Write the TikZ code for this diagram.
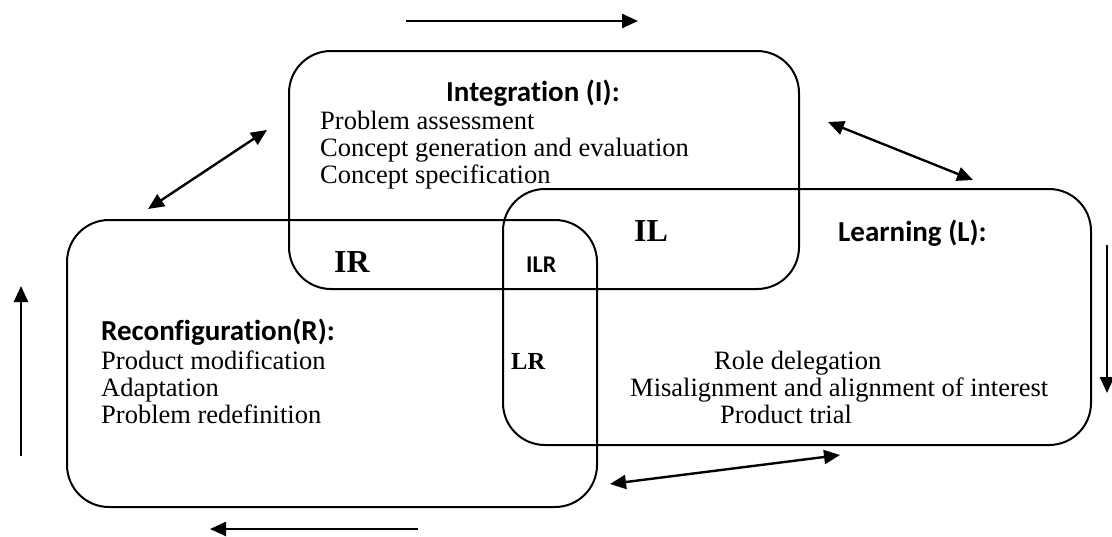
\documentclass[tikz,border=0pt]{standalone}
\usepackage{fontspec}
\setmainfont{Liberation Serif}
\newfontfamily\calib[Ligatures=NoCommon]{Carlito}
\usetikzlibrary{arrows.meta}
\begin{document}
\begin{tikzpicture}[x=1pt,y=-1pt,
  box/.style={draw, line width=2pt, rounded corners=42pt, inner sep=0pt, anchor=north west},
  arr/.style={line width=2.4pt, -{Triangle[length=16pt,width=14pt]}},
  darr/.style={line width=2.4pt, {Triangle[length=16pt,width=14pt]}-{Triangle[length=16pt,width=14pt]}},
  head/.style={font=\calib\bfseries\fontsize{29}{30}\selectfont, anchor=base west, inner sep=0pt},
  body/.style={font=\fontsize{26.5}{27}\selectfont, anchor=base west, inner sep=0pt},
  zbig/.style={font=\bfseries\fontsize{32}{34}\selectfont, anchor=base west, inner sep=0pt},
  zsmall/.style={font=\bfseries\fontsize{24.5}{26}\selectfont, anchor=base west, inner sep=0pt},
  zsans/.style={font=\calib\bfseries\fontsize{24}{26}\selectfont, anchor=base west, inner sep=0pt}
]
\useasboundingbox (0,0) rectangle (1112,536);

% boxes
\node[box, minimum width=510pt, minimum height=238pt] (I) at (288,50) {};
\node[box, minimum width=588pt, minimum height=256pt] (L) at (502,188) {};
\node[box, minimum width=530pt, minimum height=287pt] (R) at (66,219) {};

% Integration
\node[head] (ih) at (446,101) {Integration (I):};
\node[body] (i1) at (320,129) {Problem assessment};
\node[body] (i2) at (320,156) {Concept generation and evaluation};
\node[body] (i3) at (320,183) {Concept specification};

% Learning
\node[head] (lh) at (838,241) {Learning (L):};
\node[body] (l1) at (714,369) {Role delegation};
\node[body] (l2) at (630,396) {Misalignment and alignment of interest};
\node[body] (l3) at (720,423) {Product trial};

% Reconfiguration
\node[head] (rh) at (101,340) {Reconfiguration(R):};
\node[body] (r1) at (101,369) {Product modification};
\node[body] (r2) at (101,396) {Adaptation};
\node[body] (r3) at (101,423) {Problem redefinition};

% intersections
\node[zbig] (il) at (634,241) {IL};
\node[zbig] (ir) at (334,272) {IR};
\node[zsans] (ilr) at (526,272) {ILR};
\node[zsmall] (lr) at (511,369) {LR};

% arrow end points
\coordinate (ta) at (406,21);
\coordinate (tb) at (638,21);
\coordinate (ba) at (418,529);
\coordinate (bb) at (210,529);
\coordinate (la) at (21,456);
\coordinate (lb) at (21,286);
\coordinate (ra) at (1107,245);
\coordinate (rb) at (1107,393);
\coordinate (d1a) at (148,209);
\coordinate (d1b) at (267,130);
\coordinate (d2a) at (828,122);
\coordinate (d2b) at (973,180);
\coordinate (d3a) at (610,484);
\coordinate (d3b) at (840,455);

\draw[arr] (ta) -- (tb);
\draw[arr] (ba) -- (bb);
\draw[arr] (la) -- (lb);
\draw[arr] (ra) -- (rb);
\draw[darr] (d1a) -- (d1b);
\draw[darr] (d2a) -- (d2b);
\draw[darr] (d3a) -- (d3b);
\end{tikzpicture}
\end{document}
